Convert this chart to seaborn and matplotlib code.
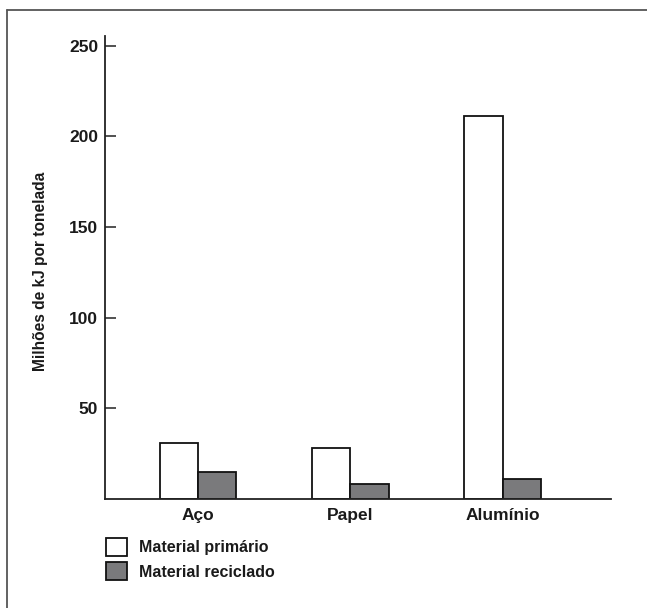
import numpy as np
import pandas as pd
import matplotlib
matplotlib.use("Agg")
import matplotlib.pyplot as plt
import seaborn as sns
from matplotlib.lines import Line2D

# valores (milhoes de kJ por tonelada)
materiais = ["Aço", "Papel", "Alumínio"]
series = ["Material primário", "Material reciclado"]
primario = [30.6, 28.0, 211.0]
reciclado = [14.5, 8.1, 10.9]
yticks = [50, 100, 150, 200, 250]

df = pd.DataFrame({
    "material": materiais * 2,
    "tipo": [series[0]] * 3 + [series[1]] * 3,
    "valor": primario + reciclado,
})

sns.set_style("white")
plt.rcParams["font.family"] = ["Liberation Sans", "DejaVu Sans"]
plt.rcParams["font.weight"] = "bold"
txt = "#1a1a1a"

fig = plt.figure(figsize=(6.47, 6.08), dpi=100)
ax = fig.add_axes([0.1626, 0.1799, 0.7818, 0.7614])

sns.barplot(data=df, x="material", y="valor", hue="tipo", order=materiais, hue_order=series,
            palette={series[0]: "white", series[1]: "#7a7a7c"}, saturation=1,
            width=0.504, edgecolor="#111111", linewidth=1.3, ax=ax)

ax.set_xlim(-0.609, 2.712)
ax.set_ylim(0, 255.6)
ax.set_yticks(yticks)
ax.set_yticklabels([str(t) for t in yticks], fontsize=12.5, fontweight="bold", color=txt)
ax.set_xticks(range(len(materiais)))
ax.set_xticklabels(materiais, fontsize=12.5, fontweight="bold", color=txt)
ax.tick_params(axis="y", left=True, direction="in", length=8, width=1.1, color="#222222", pad=5)
ax.tick_params(axis="x", length=0, pad=7)
ax.set_xlabel("")
ax.set_ylabel("Milhões de kJ por tonelada", fontsize=11.2, fontweight="bold", color=txt, va="center")
ax.yaxis.set_label_coords(-0.127, 0.491)

for s in ["top", "right"]:
    ax.spines[s].set_visible(False)
for s in ["left", "bottom"]:
    ax.spines[s].set_color("#222222")
    ax.spines[s].set_linewidth(1.3)

sns.move_legend(ax, loc="upper left", bbox_to_anchor=(106 / 647, 1 - 538 / 608),
                bbox_transform=fig.transFigure, frameon=False, title=None,
                fontsize=11.5, handlelength=1.31, handleheight=1.38, labelspacing=0.37,
                handletextpad=0.78, borderpad=0, borderaxespad=0)
for t in ax.get_legend().get_texts():
    t.set_fontweight("bold")
    t.set_color(txt)

# moldura (so esquerda e topo aparecem)
fig.add_artist(Line2D([7 / 647, 7 / 647], [0, 1 - 10 / 608], transform=fig.transFigure,
                      color="#555555", lw=1.3))
fig.add_artist(Line2D([7 / 647, 1], [1 - 10 / 608, 1 - 10 / 608], transform=fig.transFigure,
                      color="#555555", lw=1.3))

fig.savefig("out.png", dpi=100, facecolor="white")
